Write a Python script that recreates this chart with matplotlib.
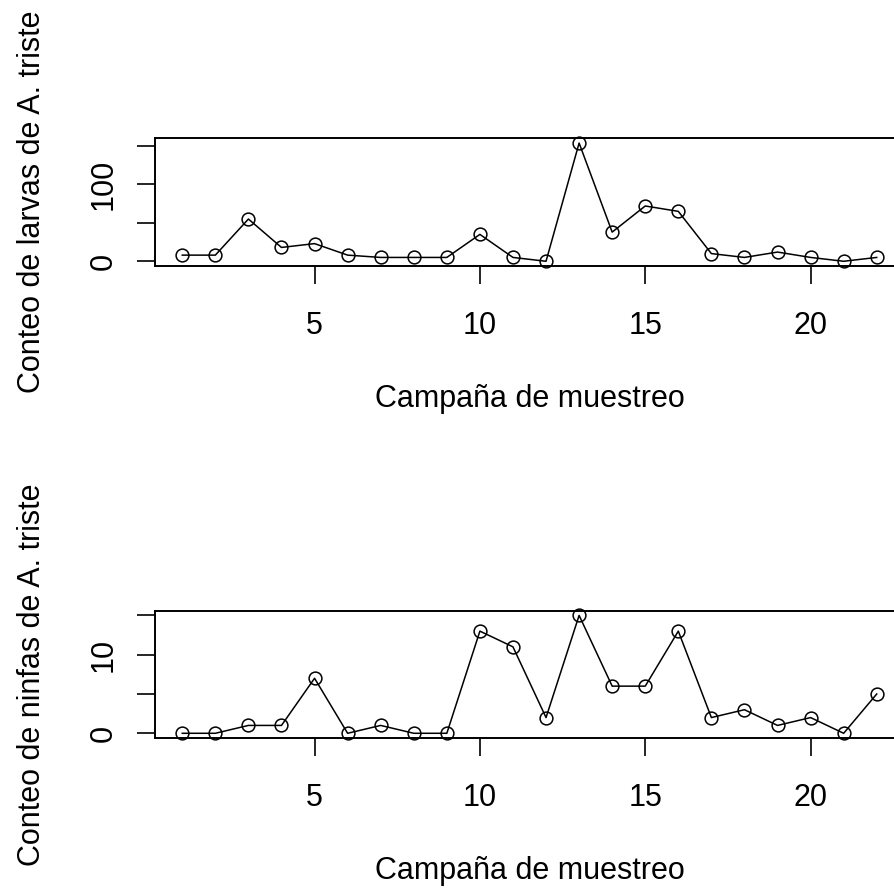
import matplotlib
matplotlib.use("Agg")
import matplotlib.pyplot as plt
import numpy as np

campaigns = list(range(1, 23))
larvas = [8, 8, 55, 18, 23, 8, 5, 5, 5, 35, 5, 0, 154, 38, 72, 65, 10, 5, 12, 5, 0, 5]
ninfas = [0, 0, 1, 1, 7, 0, 1, 0, 0, 13, 11, 2, 15, 6, 6, 13, 2, 3, 1, 2, 0, 5]

xticks = [5, 10, 15, 20]
larvas_yticks = [0, 50, 100, 150]
larvas_yticklabels = ["0", "", "100", ""]
ninfas_yticks = [0, 5, 10, 15]
ninfas_yticklabels = ["0", "", "10", ""]

xlabel = "Campaña de muestreo"
ylabel_top = "Conteo de larvas de A. triste"
ylabel_bottom = "Conteo de ninfas de A. triste"

plt.rcParams["font.family"] = ["Liberation Sans", "DejaVu Sans"]
FS = 22

W, H = 895, 888
fig = plt.figure(figsize=(W / 100, H / 100), dpi=100)

def r_lim(vals):
    lo, hi = min(vals), max(vals)
    d = (hi - lo) * 0.04
    return lo - d, hi + d

left_px, right_px = 154.5, 904.5
panels = [
    (138.3, 266.0, larvas, larvas_yticks, larvas_yticklabels, ylabel_top),
    (610.7, 738.0, ninfas, ninfas_yticks, ninfas_yticklabels, ylabel_bottom),
]

for top_px, bot_px, vals, yt, ytl, ylab in panels:
    ax = fig.add_axes([left_px / W, 1 - bot_px / H,
                       (right_px - left_px) / W, (bot_px - top_px) / H])
    ax.plot(campaigns, vals, color="black", lw=1.1, marker="o", ms=9.2,
            mfc="none", mec="black", mew=1.1, clip_on=False)
    ax.set_xlim(*r_lim(campaigns))
    ax.set_ylim(*r_lim(vals))
    ax.set_xticks(xticks)
    ax.set_xticklabels([str(t) for t in xticks])
    ax.set_yticks(yt)
    ax.set_yticklabels(ytl, rotation=90, va="center")
    for s in ax.spines.values():
        s.set_linewidth(1.4)
    ax.tick_params(axis="both", direction="out", length=13, width=1.2,
                   labelsize=FS, colors="black")
    ax.tick_params(axis="x", pad=19.5)
    ax.tick_params(axis="y", pad=13)
    ax.set_xlabel(xlabel, fontsize=FS, labelpad=31)
    ax.set_ylabel(ylab, fontsize=FS, labelpad=30)

fig.savefig("out.png", dpi=100)
